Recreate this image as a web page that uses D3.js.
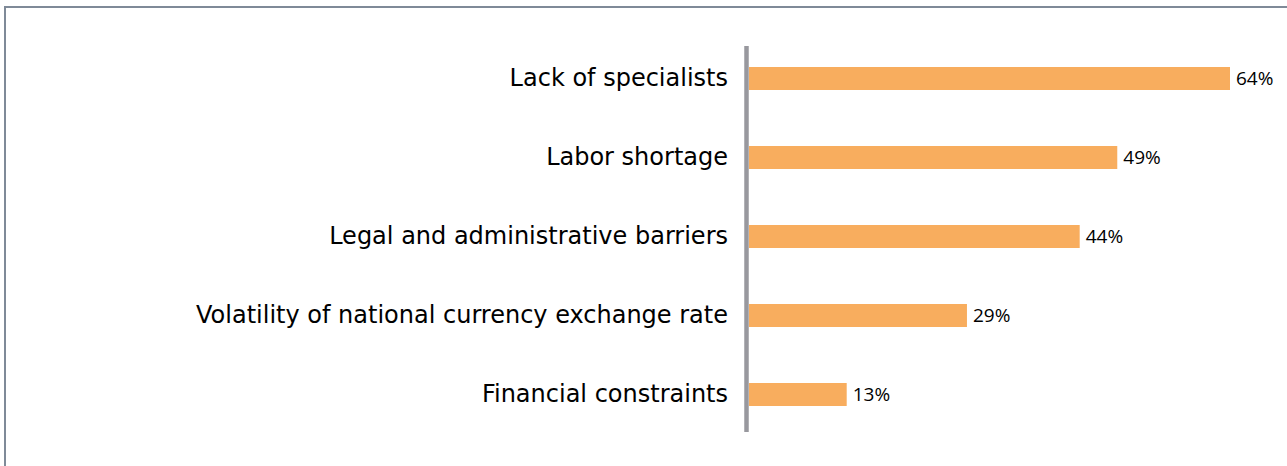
<!DOCTYPE html>
<html>
<head>
<meta charset="utf-8">
<script src="https://cdn.jsdelivr.net/npm/d3@7"></script>
<style>
  html, body { margin: 0; padding: 0; background: #fff; }
  svg { display: block; }
</style>
</head>
<body>
<svg id="chart" width="1287" height="466"></svg>
<script>
const categories = [
  "Lack of specialists",
  "Labor shortage",
  "Legal and administrative barriers",
  "Volatility of national currency exchange rate",
  "Financial constraints"
];
const values = [64, 49, 44, 29, 13];
const valueLabels = ["64%", "49%", "44%", "29%", "13%"];

const svg = d3.select("#chart");
const W = 1287, H = 466;

// frame border (top + left visible)
svg.append("rect")
  .attr("x", 5).attr("y", 7)
  .attr("width", W + 20).attr("height", H + 20)
  .attr("fill", "none")
  .attr("stroke", "#7f8a98")
  .attr("stroke-width", 2);

const axisX = 749;
const x = d3.scaleLinear().domain([0, 64]).range([axisX, 1230]);
const y = d3.scaleBand().domain(categories).range([39, 434]).paddingInner(0.709).paddingOuter(0.3545);

const data = categories.map((c, i) => ({ c, v: values[i], lab: valueLabels[i] }));

svg.append("g").selectAll("rect").data(data).enter().append("rect")
  .attr("x", x(0))
  .attr("y", d => y(d.c) + y.bandwidth() / 2 - 11.5)
  .attr("width", d => x(d.v) - x(0))
  .attr("height", 23)
  .attr("fill", "#f8ad5e");

// axis line
svg.append("line")
  .attr("x1", axisX - 2.5).attr("x2", axisX - 2.5)
  .attr("y1", 46).attr("y2", 432)
  .attr("stroke", "#98989e")
  .attr("stroke-width", 4.5);

// category labels
svg.append("g").selectAll("text").data(data).enter().append("text")
  .attr("x", 728)
  .attr("y", d => y(d.c) + y.bandwidth() / 2)
  .attr("dy", "0.33em")
  .attr("text-anchor", "end")
  .attr("font-family", "DejaVu Sans")
  .attr("font-size", 24)
  .attr("fill", "#000")
  .text(d => d.c);

// value labels
svg.append("g").selectAll("text").data(data).enter().append("text")
  .attr("x", d => x(d.v) + 6)
  .attr("y", d => y(d.c) + y.bandwidth() / 2)
  .attr("dy", "0.36em")
  .attr("font-family", "Open Sans")
  .attr("font-size", 19)
  .attr("fill", "#000")
  .text(d => d.lab);
</script>
</body>
</html>
